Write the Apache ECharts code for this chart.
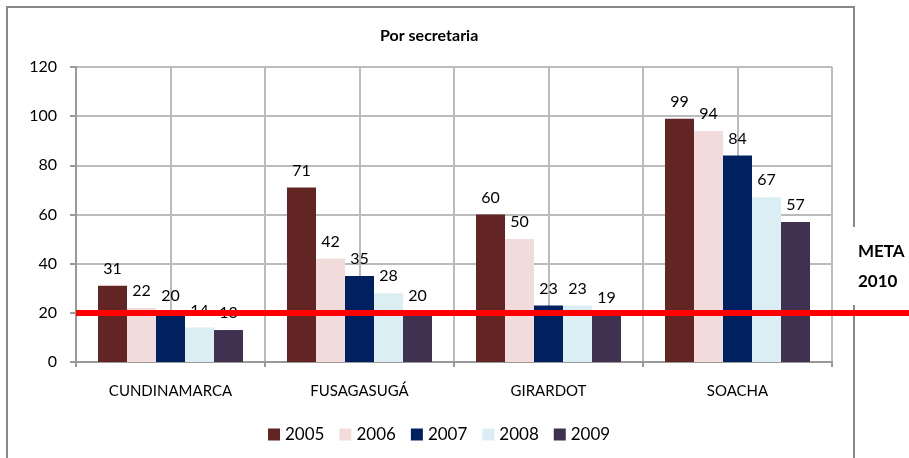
<!DOCTYPE html>
<html>
<head>
<meta charset="utf-8">
<script src="https://cdn.jsdelivr.net/npm/echarts@6/dist/echarts.min.js"></script>
<style>
  html, body { margin: 0; padding: 0; background: #fff; }
  #chart { width: 909px; height: 458px; }
</style>
</head>
<body>
<div id="chart"></div>
<script>
var categories = ["CUNDINAMARCA", "FUSAGASUGÁ", "GIRARDOT", "SOACHA"];
var years = ["2005", "2006", "2007", "2008", "2009"];
var v2005 = [31, 71, 60, 99];
var v2006 = [22, 42, 50, 94];
var v2007 = [20, 35, 23, 84];
var v2008 = [14, 28, 23, 67];
var v2009 = [13, 20, 19, 57];
var meta2010 = 20;
var yTicks = [0, 20, 40, 60, 80, 100, 120];

var colors = ["#632523", "#F2DCDB", "#002060", "#DAEEF3", "#403151"];
var values = [v2005, v2006, v2007, v2008, v2009];
var font = "Lato, 'Noto Sans', sans-serif";
var halfSteps = categories.length * 2;

var chartDom = document.getElementById("chart");
var myChart = echarts.init(chartDom);

var series = years.map(function (y, i) {
  return {
    name: y,
    type: "bar",
    barWidth: 29,
    barGap: "0%",
    barCategoryGap: "23%",
    itemStyle: { color: colors[i] },
    label: {
      show: true,
      position: "top",
      distance: 9,
      color: "#000",
      fontFamily: font,
      fontSize: 16
    },
    data: values[i]
  };
});

// red target line (META 2010), runs from the y axis out to the page edge
series.push({
  name: "META 2010",
  type: "line",
  xAxisIndex: 1,
  data: [],
  markLine: {
    silent: true,
    symbol: "none",
    label: { show: false },
    lineStyle: { color: "#ff0000", width: 6, type: "solid" },
    z: 10,
    data: [
      [
        { xAxis: 0, yAxis: meta2010 },
        { xAxis: halfSteps, yAxis: meta2010, x: "100%" }
      ]
    ]
  }
});

var option = {
  animation: false,
  title: {
    text: "Por secretaria",
    left: 375,
    top: 23,
    textStyle: { fontFamily: font, fontSize: 16, fontWeight: "bold", color: "#000" }
  },
  legend: {
    bottom: 10,
    left: 263,
    itemWidth: 12,
    itemHeight: 12,
    itemGap: 15,
    icon: "rect",
    textStyle: { fontFamily: font, fontSize: 17, color: "#000" },
    data: years
  },
  grid: { left: 76, right: 77, top: 67, bottom: 96 },
  xAxis: [
    {
      type: "category",
      data: categories,
      axisLine: { lineStyle: { color: "#999", width: 2 } },
      axisTick: { show: true, length: 5, lineStyle: { color: "#999", width: 2 } },
      axisLabel: { margin: 22, color: "#000", fontFamily: font, fontSize: 15 },
      splitLine: { show: false }
    },
    {
      type: "value",
      min: 0,
      max: halfSteps,
      interval: 1,
      position: "top",
      axisLine: { show: false },
      axisTick: { show: false },
      axisLabel: { show: false },
      splitLine: { show: true, lineStyle: { color: "#bbb", width: 2 } }
    }
  ],
  yAxis: {
    type: "value",
    min: yTicks[0],
    max: yTicks[yTicks.length - 1],
    interval: 20,
    axisLine: { show: true, lineStyle: { color: "#999", width: 2 } },
    axisTick: { show: true, length: 6, lineStyle: { color: "#999", width: 2 } },
    axisLabel: { margin: 19, color: "#000", fontFamily: font, fontSize: 16 },
    splitLine: { show: true, lineStyle: { color: "#bbb", width: 2 } }
  },
  graphic: [
    {
      type: "rect",
      z: 0,
      silent: true,
      shape: { x: 7, y: 7, width: 847, height: 470 },
      style: { fill: "none", stroke: "#888", lineWidth: 2 }
    },
    {
      type: "text",
      z: 100,
      silent: true,
      x: 853,
      y: 227,
      style: {
        text: "META\n2010",
        font: "bold 17px " + font,
        fill: "#000",
        lineHeight: 30,
        backgroundColor: "#fff",
        padding: [10, 10, 8, 5]
      }
    }
  ],
  series: series
};

option && myChart.setOption(option);
</script>
</body>
</html>
